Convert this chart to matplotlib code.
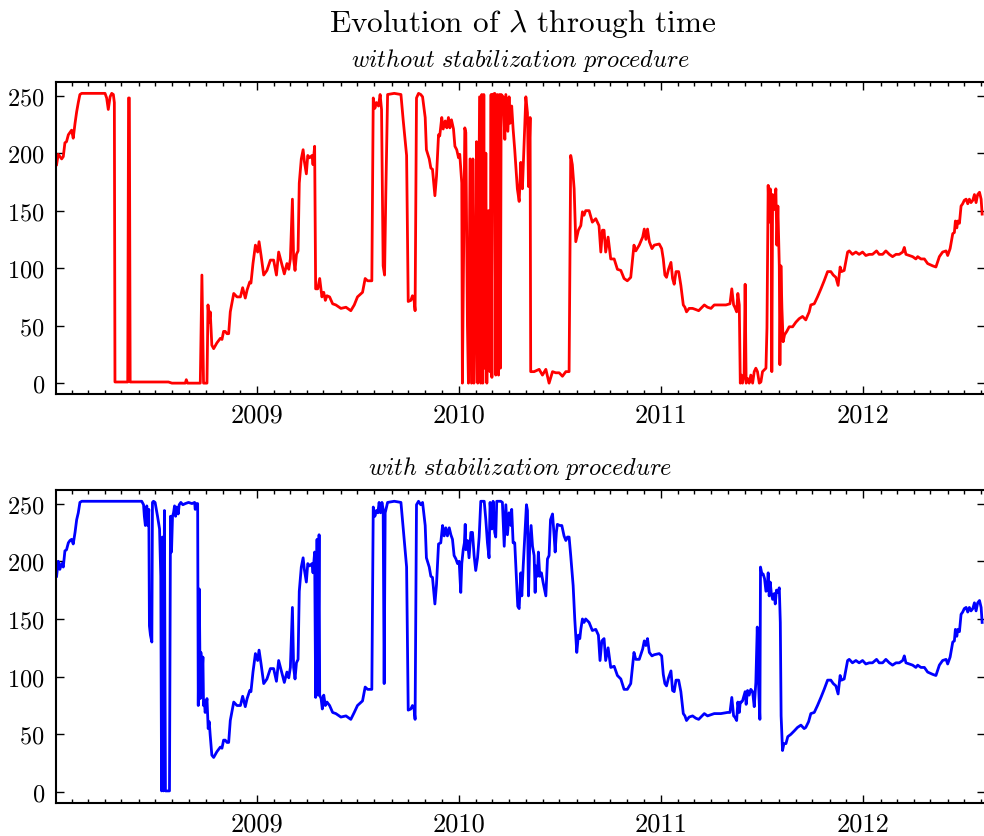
import matplotlib
matplotlib.use('Agg')
import matplotlib.pyplot as plt
import matplotlib.dates as mdates
from datetime import datetime, timedelta

plt.rcParams['font.family'] = 'serif'
plt.rcParams['font.serif'] = ['cmr10']
plt.rcParams['mathtext.fontset'] = 'cm'
plt.rcParams['axes.formatter.use_mathtext'] = True
plt.rcParams['axes.linewidth'] = 1.5

# lambda without stabilization (decimal year, value)
t_raw = [2008.011, 2008.019, 2008.036, 2008.044, 2008.052, 2008.060, 2008.069, 2008.077, 2008.085, 2008.093,
         2008.102, 2008.110, 2008.118, 2008.126, 2008.135, 2008.250, 2008.258, 2008.266, 2008.275, 2008.283,
         2008.291, 2008.296, 2008.299, 2008.362, 2008.366, 2008.370, 2008.374, 2008.563, 2008.580, 2008.646,
         2008.651, 2008.657, 2008.720, 2008.728, 2008.736, 2008.753, 2008.758, 2008.764, 2008.769, 2008.777,
         2008.786, 2008.802, 2008.819, 2008.827, 2008.835, 2008.843, 2008.852, 2008.860, 2008.868, 2008.885,
         2008.901, 2008.918, 2008.929, 2008.942, 2008.951, 2008.964, 2008.970, 2008.980, 2008.992, 2009.003,
         2009.010, 2009.020, 2009.033, 2009.049, 2009.066, 2009.082, 2009.096, 2009.107, 2009.120, 2009.135,
         2009.148, 2009.157, 2009.165, 2009.175, 2009.181, 2009.188, 2009.195, 2009.203, 2009.209, 2009.219,
         2009.228, 2009.234, 2009.244, 2009.251, 2009.260, 2009.272, 2009.277, 2009.285, 2009.290, 2009.300,
         2009.310, 2009.321, 2009.330, 2009.338, 2009.346, 2009.359, 2009.374, 2009.390, 2009.415, 2009.440,
         2009.464, 2009.481, 2009.497, 2009.522, 2009.535, 2009.547, 2009.568, 2009.575, 2009.583, 2009.591,
         2009.601, 2009.609, 2009.616, 2009.624, 2009.631, 2009.637, 2009.646, 2009.679, 2009.712, 2009.723,
         2009.740, 2009.748, 2009.761, 2009.769, 2009.777, 2009.782, 2009.789, 2009.799, 2009.810, 2009.819,
         2009.832, 2009.838, 2009.852, 2009.860, 2009.868, 2009.880, 2009.888, 2009.898, 2009.904, 2009.914,
         2009.921, 2009.931, 2009.939, 2009.947, 2009.954, 2009.962, 2009.972, 2009.979, 2009.988, 2009.997,
         2010.003, 2010.013, 2010.016, 2010.028, 2010.033, 2010.041, 2010.046, 2010.054, 2010.061, 2010.068,
         2010.073, 2010.079, 2010.086, 2010.092, 2010.101, 2010.107, 2010.112, 2010.117, 2010.122, 2010.127,
         2010.132, 2010.137, 2010.145, 2010.152, 2010.158, 2010.162, 2010.166, 2010.176, 2010.181, 2010.188,
         2010.195, 2010.199, 2010.204, 2010.208, 2010.218, 2010.226, 2010.231, 2010.241, 2010.247, 2010.252,
         2010.260, 2010.267, 2010.275, 2010.288, 2010.297, 2010.305, 2010.313, 2010.330, 2010.338, 2010.343,
         2010.351, 2010.354, 2010.371, 2010.396, 2010.412, 2010.429, 2010.445, 2010.462, 2010.478, 2010.495,
         2010.511, 2010.528, 2010.544, 2010.552, 2010.560, 2010.569, 2010.577, 2010.590, 2010.602, 2010.610,
         2010.618, 2010.626, 2010.643, 2010.659, 2010.676, 2010.692, 2010.701, 2010.709, 2010.717, 2010.725,
         2010.737, 2010.750, 2010.767, 2010.783, 2010.800, 2010.816, 2010.832, 2010.849, 2010.865, 2010.874,
         2010.891, 2010.908, 2010.916, 2010.924, 2010.932, 2010.941, 2010.954, 2010.965, 2010.990, 2011.002,
         2011.010, 2011.018, 2011.026, 2011.036, 2011.048, 2011.056, 2011.064, 2011.073, 2011.086, 2011.097,
         2011.109, 2011.117, 2011.125, 2011.138, 2011.155, 2011.171, 2011.185, 2011.196, 2011.213, 2011.229,
         2011.246, 2011.262, 2011.295, 2011.320, 2011.340, 2011.349, 2011.358, 2011.364, 2011.373, 2011.379,
         2011.386, 2011.391, 2011.397, 2011.402, 2011.410, 2011.415, 2011.420, 2011.427, 2011.435, 2011.443,
         2011.452, 2011.460, 2011.468, 2011.476, 2011.485, 2011.493, 2011.501, 2011.518, 2011.523, 2011.529,
         2011.534, 2011.539, 2011.544, 2011.547, 2011.551, 2011.559, 2011.567, 2011.572, 2011.577, 2011.584,
         2011.587, 2011.592, 2011.597, 2011.603, 2011.610, 2011.621, 2011.633, 2011.650, 2011.666, 2011.682,
         2011.699, 2011.715, 2011.732, 2011.740, 2011.757, 2011.773, 2011.790, 2011.806, 2011.823, 2011.839,
         2011.851, 2011.864, 2011.875, 2011.885, 2011.892, 2011.905, 2011.922, 2011.930, 2011.946, 2011.963,
         2011.979, 2011.996, 2012.012, 2012.029, 2012.045, 2012.065, 2012.078, 2012.095, 2012.111, 2012.128,
         2012.144, 2012.161, 2012.177, 2012.194, 2012.202, 2012.210, 2012.226, 2012.243, 2012.259, 2012.268,
         2012.284, 2012.301, 2012.317, 2012.342, 2012.358, 2012.375, 2012.391, 2012.408, 2012.416, 2012.428,
         2012.441, 2012.449, 2012.454, 2012.461, 2012.466, 2012.474, 2012.482, 2012.490, 2012.498, 2012.507,
         2012.515, 2012.523, 2012.531, 2012.540, 2012.548, 2012.556, 2012.564, 2012.573, 2012.581, 2012.586]
lam_raw = [190, 199, 195, 197, 209, 210, 216, 218, 220, 213,
           226, 236, 244, 251, 252, 252, 248, 238, 249, 252,
           251, 244, 1, 1, 248, 248, 1, 1, 0, 0,
           3, 0, 0, 94, 0, 0, 68, 53, 62, 33,
           30, 35, 39, 38, 45, 45, 43, 43, 62, 78,
           75, 75, 83, 74, 81, 88, 87, 104, 120, 114,
           123, 111, 94, 98, 107, 107, 94, 114, 105, 95,
           104, 99, 108, 160, 108, 98, 112, 115, 174, 195,
           203, 193, 182, 198, 196, 198, 190, 206, 82, 82,
           91, 75, 79, 72, 76, 75, 69, 68, 65, 66,
           63, 68, 75, 79, 91, 89, 89, 248, 239, 244,
           241, 251, 238, 102, 94, 163, 251, 252, 251, 229,
           198, 71, 72, 76, 72, 63, 248, 252, 251, 249,
           231, 203, 195, 187, 186, 163, 180, 216, 215, 231,
           221, 228, 222, 231, 222, 229, 221, 206, 203, 196,
           199, 174, 0, 222, 218, 50, 0, 195, 0, 195,
           0, 56, 210, 0, 249, 0, 251, 0, 251, 13,
           200, 0, 150, 10, 251, 5, 251, 252, 7, 251,
           7, 251, 13, 251, 249, 212, 251, 219, 249, 226,
           241, 221, 203, 169, 158, 192, 169, 249, 235, 171,
           231, 10, 10, 12, 7, 12, 0, 10, 9, 9,
           6, 10, 10, 198, 190, 169, 123, 133, 137, 149,
           146, 150, 150, 140, 143, 137, 114, 133, 133, 114,
           127, 108, 108, 99, 98, 91, 89, 92, 120, 115,
           120, 127, 134, 125, 134, 123, 117, 120, 121, 117,
           108, 94, 92, 99, 105, 91, 86, 97, 97, 85,
           68, 66, 62, 65, 65, 64, 63, 65, 68, 66,
           65, 68, 68, 68, 69, 82, 68, 66, 62, 78,
           68, 0, 7, 0, 7, 86, 0, 4, 0, 7,
           0, 10, 13, 10, 0, 1, 10, 13, 48, 172,
           140, 169, 160, 10, 164, 151, 169, 120, 154, 102,
           16, 102, 65, 36, 42, 45, 49, 49, 53, 56,
           58, 55, 62, 68, 69, 75, 82, 89, 97, 97,
           94, 92, 85, 101, 97, 98, 114, 115, 112, 114,
           112, 114, 111, 112, 112, 115, 112, 112, 115, 112,
           110, 112, 112, 114, 118, 112, 111, 110, 108, 110,
           108, 108, 104, 102, 101, 110, 114, 115, 111, 117,
           130, 131, 141, 135, 141, 139, 154, 156, 159, 160,
           156, 160, 157, 159, 164, 157, 164, 166, 160, 147]

# lambda with stabilization (decimal year, value)
t_stab = [2008.011, 2008.019, 2008.027, 2008.036, 2008.044, 2008.052, 2008.060, 2008.069, 2008.077, 2008.085,
          2008.093, 2008.102, 2008.110, 2008.118, 2008.126, 2008.135, 2008.431, 2008.440, 2008.444, 2008.449,
          2008.456, 2008.461, 2008.466, 2008.469, 2008.474, 2008.481, 2008.484, 2008.489, 2008.497, 2008.509,
          2008.519, 2008.525, 2008.529, 2008.533, 2008.538, 2008.543, 2008.548, 2008.568, 2008.573, 2008.578,
          2008.583, 2008.588, 2008.593, 2008.598, 2008.604, 2008.611, 2008.616, 2008.624, 2008.634, 2008.646,
          2008.662, 2008.679, 2008.692, 2008.695, 2008.700, 2008.707, 2008.710, 2008.715, 2008.720, 2008.723,
          2008.728, 2008.733, 2008.736, 2008.740, 2008.744, 2008.753, 2008.759, 2008.764, 2008.769, 2008.777,
          2008.786, 2008.802, 2008.819, 2008.827, 2008.835, 2008.843, 2008.852, 2008.860, 2008.868, 2008.885,
          2008.901, 2008.918, 2008.929, 2008.942, 2008.951, 2008.964, 2008.970, 2008.980, 2008.992, 2009.003,
          2009.010, 2009.020, 2009.033, 2009.049, 2009.066, 2009.082, 2009.096, 2009.107, 2009.120, 2009.135,
          2009.148, 2009.157, 2009.165, 2009.175, 2009.181, 2009.188, 2009.195, 2009.203, 2009.209, 2009.219,
          2009.228, 2009.234, 2009.244, 2009.251, 2009.260, 2009.272, 2009.277, 2009.285, 2009.290, 2009.297,
          2009.302, 2009.307, 2009.310, 2009.317, 2009.323, 2009.330, 2009.338, 2009.346, 2009.359, 2009.374,
          2009.390, 2009.415, 2009.440, 2009.464, 2009.481, 2009.497, 2009.522, 2009.535, 2009.547, 2009.568,
          2009.575, 2009.583, 2009.591, 2009.598, 2009.604, 2009.611, 2009.618, 2009.624, 2009.629, 2009.634,
          2009.646, 2009.679, 2009.712, 2009.723, 2009.740, 2009.748, 2009.761, 2009.769, 2009.777, 2009.782,
          2009.789, 2009.799, 2009.810, 2009.819, 2009.832, 2009.838, 2009.852, 2009.860, 2009.868, 2009.880,
          2009.888, 2009.898, 2009.909, 2009.918, 2009.926, 2009.934, 2009.942, 2009.951, 2009.959, 2009.967,
          2009.975, 2009.984, 2009.992, 2010.000, 2010.008, 2010.013, 2010.020, 2010.026, 2010.030, 2010.033,
          2010.041, 2010.049, 2010.058, 2010.066, 2010.074, 2010.082, 2010.091, 2010.099, 2010.107, 2010.124,
          2010.132, 2010.140, 2010.148, 2010.153, 2010.162, 2010.168, 2010.176, 2010.181, 2010.186, 2010.206,
          2010.214, 2010.223, 2010.231, 2010.239, 2010.247, 2010.256, 2010.260, 2010.267, 2010.275, 2010.284,
          2010.290, 2010.297, 2010.305, 2010.310, 2010.317, 2010.326, 2010.333, 2010.338, 2010.343, 2010.349,
          2010.356, 2010.363, 2010.371, 2010.376, 2010.379, 2010.387, 2010.392, 2010.399, 2010.407, 2010.415,
          2010.429, 2010.437, 2010.445, 2010.452, 2010.462, 2010.470, 2010.475, 2010.481, 2010.486, 2010.498,
          2010.508, 2010.519, 2010.528, 2010.536, 2010.544, 2010.552, 2010.564, 2010.572, 2010.582, 2010.590,
          2010.597, 2010.602, 2010.610, 2010.618, 2010.626, 2010.643, 2010.659, 2010.676, 2010.689, 2010.697,
          2010.706, 2010.717, 2010.725, 2010.737, 2010.750, 2010.767, 2010.783, 2010.800, 2010.816, 2010.832,
          2010.849, 2010.865, 2010.874, 2010.891, 2010.908, 2010.916, 2010.924, 2010.932, 2010.941, 2010.954,
          2010.965, 2010.990, 2011.002, 2011.010, 2011.018, 2011.026, 2011.036, 2011.048, 2011.056, 2011.064,
          2011.073, 2011.086, 2011.097, 2011.109, 2011.117, 2011.125, 2011.138, 2011.155, 2011.171, 2011.185,
          2011.196, 2011.213, 2011.229, 2011.246, 2011.262, 2011.295, 2011.328, 2011.340, 2011.349, 2011.358,
          2011.364, 2011.373, 2011.379, 2011.386, 2011.391, 2011.397, 2011.402, 2011.410, 2011.415, 2011.420,
          2011.427, 2011.435, 2011.443, 2011.452, 2011.460, 2011.468, 2011.475, 2011.481, 2011.488, 2011.491,
          2011.498, 2011.504, 2011.511, 2011.518, 2011.523, 2011.529, 2011.534, 2011.539, 2011.544, 2011.551,
          2011.559, 2011.564, 2011.570, 2011.577, 2011.584, 2011.589, 2011.593, 2011.600, 2011.607, 2011.617,
          2011.626, 2011.641, 2011.658, 2011.674, 2011.691, 2011.707, 2011.715, 2011.729, 2011.740, 2011.757,
          2011.773, 2011.790, 2011.806, 2011.823, 2011.839, 2011.851, 2011.864, 2011.875, 2011.885, 2011.892,
          2011.905, 2011.922, 2011.930, 2011.946, 2011.963, 2011.979, 2011.996, 2012.012, 2012.029, 2012.045,
          2012.065, 2012.078, 2012.095, 2012.111, 2012.128, 2012.144, 2012.161, 2012.177, 2012.194, 2012.202,
          2012.210, 2012.226, 2012.243, 2012.259, 2012.268, 2012.284, 2012.301, 2012.317, 2012.342, 2012.358,
          2012.375, 2012.391, 2012.408, 2012.416, 2012.428, 2012.441, 2012.449, 2012.454, 2012.461, 2012.466,
          2012.474, 2012.482, 2012.490, 2012.498, 2012.507, 2012.515, 2012.523, 2012.531, 2012.540, 2012.548,
          2012.556, 2012.564, 2012.573, 2012.581, 2012.586]
lam_stab = [187, 200, 193, 198, 195, 209, 210, 216, 218, 219,
            215, 225, 236, 242, 251, 252, 252, 249, 239, 231,
            248, 231, 245, 144, 136, 130, 251, 252, 251, 239,
            228, 187, 1, 221, 1, 244, 1, 1, 239, 208,
            239, 242, 248, 239, 247, 241, 249, 251, 249, 250,
            251, 250, 251, 245, 250, 250, 75, 176, 81, 121,
            98, 117, 75, 79, 69, 81, 55, 61, 49, 32,
            30, 35, 39, 38, 45, 45, 43, 43, 62, 78,
            75, 75, 83, 74, 81, 88, 87, 104, 120, 114,
            123, 111, 94, 98, 107, 107, 96, 114, 105, 95,
            104, 99, 108, 160, 108, 98, 112, 115, 174, 195,
            203, 193, 182, 198, 196, 198, 190, 208, 82, 219,
            84, 223, 84, 81, 72, 84, 75, 78, 75, 69,
            68, 65, 66, 63, 69, 75, 79, 91, 89, 89,
            247, 239, 244, 242, 251, 242, 251, 245, 94, 242,
            251, 252, 251, 229, 195, 71, 72, 75, 72, 63,
            249, 252, 249, 251, 231, 203, 195, 187, 186, 163,
            180, 215, 216, 231, 222, 229, 222, 229, 223, 219,
            205, 202, 198, 200, 173, 198, 210, 216, 232, 210,
            218, 203, 225, 225, 205, 192, 203, 221, 252, 252,
            236, 216, 203, 251, 228, 252, 225, 221, 252, 252,
            251, 213, 249, 223, 242, 231, 245, 216, 216, 182,
            161, 159, 190, 170, 196, 225, 249, 244, 170, 213,
            231, 213, 205, 173, 196, 187, 208, 187, 190, 182,
            170, 202, 205, 236, 241, 222, 208, 225, 232, 231,
            231, 222, 218, 221, 221, 205, 179, 150, 121, 136,
            133, 141, 150, 147, 150, 147, 140, 141, 136, 114,
            131, 133, 114, 125, 108, 109, 101, 98, 89, 89,
            94, 121, 115, 115, 124, 131, 127, 133, 121, 118,
            119, 120, 118, 102, 94, 92, 99, 105, 88, 87,
            97, 97, 87, 68, 66, 62, 65, 66, 64, 63,
            65, 68, 66, 67, 68, 68, 69, 69, 82, 66,
            65, 62, 78, 69, 78, 78, 79, 84, 87, 76,
            88, 84, 89, 87, 74, 95, 143, 95, 63, 195,
            189, 189, 185, 174, 175, 190, 170, 182, 173, 167,
            172, 163, 175, 173, 177, 147, 66, 36, 42, 42,
            48, 50, 53, 56, 58, 55, 56, 61, 68, 69,
            75, 82, 89, 97, 97, 94, 92, 85, 101, 97,
            98, 114, 115, 112, 114, 112, 114, 111, 112, 112,
            115, 112, 112, 115, 112, 110, 112, 112, 114, 118,
            112, 111, 110, 108, 110, 108, 108, 104, 102, 101,
            110, 114, 115, 111, 117, 130, 131, 141, 135, 141,
            139, 154, 156, 159, 160, 156, 160, 157, 159, 164,
            157, 164, 166, 160, 147]


def to_dates(years):
    out = []
    for y in years:
        yr = int(y)
        ndays = (datetime(yr + 1, 1, 1) - datetime(yr, 1, 1)).days
        out.append(datetime(yr, 1, 1) + timedelta(days=(y - yr) * ndays))
    return out


fig = plt.figure(figsize=(9.84, 8.37), dpi=100)
ax1 = fig.add_axes([0.0569, 0.528, 0.9445, 0.373])
ax2 = fig.add_axes([0.0569, 0.0394, 0.9445, 0.3743])

ax1.plot(to_dates(t_raw), lam_raw, color='red', lw=2.0)
ax2.plot(to_dates(t_stab), lam_stab, color='blue', lw=2.0)

fig.text(0.531, 1 - 32 / 837, r'Evolution of $\lambda$ through time', fontsize=22.5,
         ha='center', va='baseline')
ax1.set_title(r'$\mathit{without\ stabilization\ procedure}$', fontsize=17.5, pad=11.5)
ax2.set_title(r'$\mathit{with\ stabilization\ procedure}$', fontsize=17.5, pad=11)

xmin, xmax = to_dates([2008.008, 2012.602])
for ax in (ax1, ax2):
    ax.set_xlim(xmin, xmax)
    ax.set_ylim(-9.5, 262)
    ax.set_yticks([0, 50, 100, 150, 200, 250])
    ax.xaxis.set_major_locator(mdates.YearLocator())
    ax.xaxis.set_minor_locator(mdates.MonthLocator())
    ax.xaxis.set_major_formatter(mdates.DateFormatter('%Y'))
    ax.tick_params(which='both', direction='in', top=True, right=True, width=1.0)
    ax.tick_params(which='major', length=6)
    ax.tick_params(which='minor', length=3)
    ax.tick_params(axis='y', labelsize=17.5, pad=8)
    ax.tick_params(axis='x', labelsize=19, pad=6)

fig.savefig('out.png', dpi=100)
